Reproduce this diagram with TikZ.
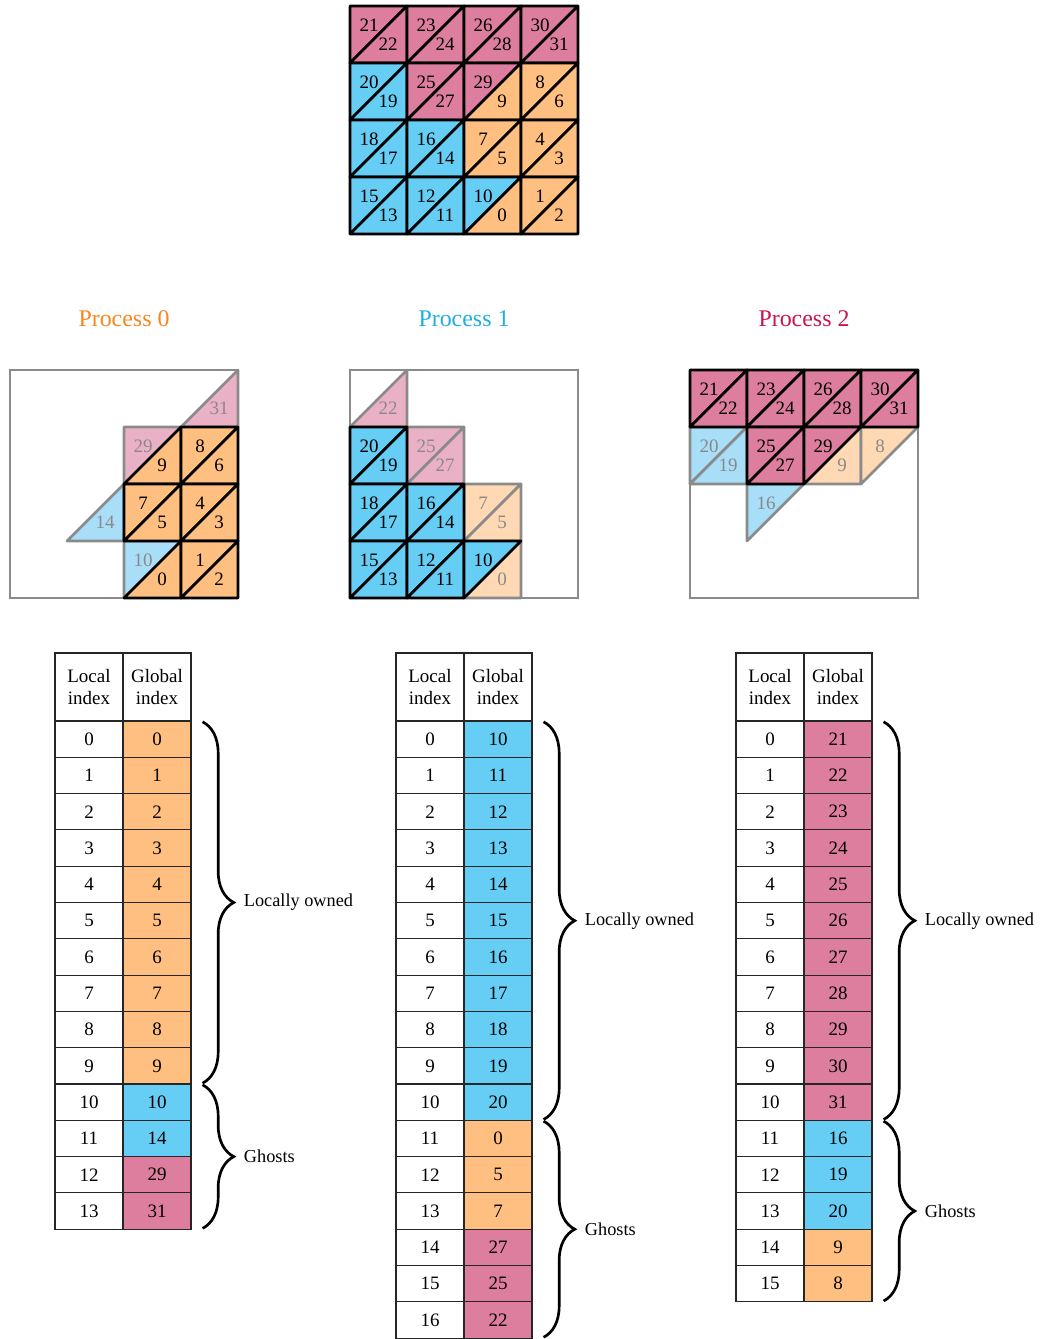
\documentclass[tikz,border=0pt]{standalone}
\usepackage{fontspec}
\setmainfont{Liberation Serif}
\usetikzlibrary{decorations.pathreplacing, positioning}

\definecolor{orgc}{HTML}{FFBF80}
\definecolor{bluc}{HTML}{66CDF4}
\definecolor{pnkc}{HTML}{DE7E9E}
\definecolor{orgl}{HTML}{FFD9B3}
\definecolor{blul}{HTML}{A8DEF7}
\definecolor{pnkl}{HTML}{EAB1C6}
\definecolor{ttlorg}{HTML}{F7861F}
\definecolor{ttlblu}{HTML}{1FAEE3}
\definecolor{ttlpnk}{HTML}{C8144C}
\definecolor{edgegray}{HTML}{8A8A8A}

% upper-left / lower-right half of cell (col,row): name, col, row, fill, edge, number
\newcommand{\utri}[6]{%
  \draw[tri, fill=#4, draw=#5] ({57*#2},{57*#3}) -- ++(57,0) -- ++(-57,57) -- cycle;
  \node[num, text=#5] (#1) at ({57*#2+19},{57*#3+19}) {#6};}
\newcommand{\ltri}[6]{%
  \draw[tri, fill=#4, draw=#5] ({57*#2+57},{57*#3}) -- ++(0,57) -- ++(-57,0) -- cycle;
  \node[num, text=#5] (#1) at ({57*#2+38},{57*#3+38}) {#6};}

\begin{document}
\begin{tikzpicture}[
  x=0.025cm, y=-0.025cm,
  tri/.style={line width=1.9pt, line join=round},
  num/.style={font=\fontsize{13.5}{15}\selectfont, inner sep=0pt},
  frm/.style={draw=edgegray, line width=1.8pt},
  ttl/.style={font=\fontsize{17}{19}\selectfont},
  hdr/.style={draw=black!85, line width=0.8pt, minimum width=1.7cm, minimum height=1.7cm,
              align=center, font=\fontsize{13.5}{15.5}\selectfont, inner sep=0pt},
  cell/.style={draw=black!85, line width=0.8pt, minimum width=1.7cm, minimum height=0.9075cm,
               font=\fontsize{13.5}{15.5}\selectfont, inner sep=0pt},
  brc/.style={decorate, decoration={brace, amplitude=0.78cm}, line width=1.9pt},
  brlbl/.style={midway, anchor=west, xshift=1.0cm, inner sep=0pt,
                font=\fontsize{13}{15}\selectfont}
]
  \useasboundingbox (0,0) rectangle (1045,1339);

  % ========== GLOBAL MESH ==========
  \begin{scope}[shift={(350,6)}]
    \foreach \c/\r/\ka/\a/\kb/\b in {0/0/pnkc/21/pnkc/22, 1/0/pnkc/23/pnkc/24, 2/0/pnkc/26/pnkc/28, 3/0/pnkc/30/pnkc/31,
                                     0/1/bluc/20/bluc/19, 1/1/pnkc/25/pnkc/27, 2/1/pnkc/29/orgc/9,   3/1/orgc/8/orgc/6,
                                     0/2/bluc/18/bluc/17, 1/2/bluc/16/bluc/14, 2/2/orgc/7/orgc/5,    3/2/orgc/4/orgc/3,
                                     0/3/bluc/15/bluc/13, 1/3/bluc/12/bluc/11, 2/3/bluc/10/orgc/0,   3/3/orgc/1/orgc/2}
    {
      \utri{gu\c\r}{\c}{\r}{\ka}{black}{\a}
      \ltri{gl\c\r}{\c}{\r}{\kb}{black}{\b}
    }
  \end{scope}

  % ========== PROCESS 0 ==========
  \begin{scope}[shift={(10,370)}]
    \node[ttl, text=ttlorg] (p0ttl) at (114,-51) {Process 0};
    \draw[frm] (0,0) rectangle (228,228);
    % ghosts
    \foreach \c/\r/\sd/\k/\n in {3/0/l/pnkl/31, 2/1/u/pnkl/29, 1/2/l/blul/14, 2/3/u/blul/10}
      {\csname\sd tri\endcsname{p0\sd\c\r}{\c}{\r}{\k}{edgegray}{\n}}
    % owned
    \foreach \c/\r/\sd/\n in {2/1/l/9, 3/1/u/8, 3/1/l/6, 2/2/u/7, 2/2/l/5, 3/2/u/4, 3/2/l/3,
                              2/3/l/0, 3/3/u/1, 3/3/l/2}
      {\csname\sd tri\endcsname{p0\sd\c\r}{\c}{\r}{orgc}{black}{\n}}
  \end{scope}

  % ========== PROCESS 1 ==========
  \begin{scope}[shift={(350,370)}]
    \node[ttl, text=ttlblu] (p1ttl) at (114,-51) {Process 1};
    \draw[frm] (0,0) rectangle (228,228);
    % ghosts
    \foreach \c/\r/\sd/\k/\n in {0/0/l/pnkl/22, 1/1/u/pnkl/25, 1/1/l/pnkl/27, 2/2/u/orgl/7,
                                 2/2/l/orgl/5, 2/3/l/orgl/0}
      {\csname\sd tri\endcsname{p1\sd\c\r}{\c}{\r}{\k}{edgegray}{\n}}
    % owned
    \foreach \c/\r/\sd/\n in {0/1/u/20, 0/1/l/19, 0/2/u/18, 0/2/l/17, 1/2/u/16, 1/2/l/14,
                              0/3/u/15, 0/3/l/13, 1/3/u/12, 1/3/l/11, 2/3/u/10}
      {\csname\sd tri\endcsname{p1\sd\c\r}{\c}{\r}{bluc}{black}{\n}}
  \end{scope}

  % ========== PROCESS 2 ==========
  \begin{scope}[shift={(690,370)}]
    \node[ttl, text=ttlpnk] (p2ttl) at (114,-51) {Process 2};
    \draw[frm] (0,0) rectangle (228,228);
    % ghosts
    \foreach \c/\r/\sd/\k/\n in {0/1/u/blul/20, 0/1/l/blul/19, 2/1/l/orgl/9, 3/1/u/orgl/8,
                                 1/2/u/blul/16}
      {\csname\sd tri\endcsname{p2\sd\c\r}{\c}{\r}{\k}{edgegray}{\n}}
    % owned
    \foreach \c/\r/\sd/\n in {0/0/u/21, 0/0/l/22, 1/0/u/23, 1/0/l/24, 2/0/u/26, 2/0/l/28,
                              3/0/u/30, 3/0/l/31, 1/1/u/25, 1/1/l/27, 2/1/u/29}
      {\csname\sd tri\endcsname{p2\sd\c\r}{\c}{\r}{pnkc}{black}{\n}}
  \end{scope}

  % ========== TABLE 0 ==========
  \begin{scope}[shift={(55,653)}]
    \node[hdr] (t0hl) at (34,34) {Local\\index};
    \node[hdr] (t0hg) at (102,34) {Global\\index};
    \foreach \g/\k [count=\i from 0] in {0/orgc, 1/orgc, 2/orgc, 3/orgc, 4/orgc, 5/orgc, 6/orgc,
                                         7/orgc, 8/orgc, 9/orgc, 10/bluc, 14/bluc, 29/pnkc, 31/pnkc}
    {
      \node[cell] (t0l\i) at (34,{86.15+36.3*\i}) {\i};
      \node[cell, fill=\k] (t0g\i) at (102,{86.15+36.3*\i}) {\g};
    }
    \draw[brc] ([xshift=0.275cm, yshift=-1pt]t0g0.north east)
      -- ([xshift=0.275cm, yshift=1pt]t0g9.south east) node[brlbl] {Locally owned};
    \draw[brc] ([xshift=0.275cm, yshift=-1pt]t0g10.north east)
      -- ([xshift=0.275cm, yshift=1pt]t0g13.south east) node[brlbl] {Ghosts};
  \end{scope}

  % ========== TABLE 1 ==========
  \begin{scope}[shift={(396,653)}]
    \node[hdr] (t1hl) at (34,34) {Local\\index};
    \node[hdr] (t1hg) at (102,34) {Global\\index};
    \foreach \g/\k [count=\i from 0] in {10/bluc, 11/bluc, 12/bluc, 13/bluc, 14/bluc, 15/bluc,
                                         16/bluc, 17/bluc, 18/bluc, 19/bluc, 20/bluc, 0/orgc,
                                         5/orgc, 7/orgc, 27/pnkc, 25/pnkc, 22/pnkc}
    {
      \node[cell] (t1l\i) at (34,{86.15+36.3*\i}) {\i};
      \node[cell, fill=\k] (t1g\i) at (102,{86.15+36.3*\i}) {\g};
    }
    \draw[brc] ([xshift=0.275cm, yshift=-1pt]t1g0.north east)
      -- ([xshift=0.275cm, yshift=1pt]t1g10.south east) node[brlbl] {Locally owned};
    \draw[brc] ([xshift=0.275cm, yshift=-1pt]t1g11.north east)
      -- ([xshift=0.275cm, yshift=1pt]t1g16.south east) node[brlbl] {Ghosts};
  \end{scope}

  % ========== TABLE 2 ==========
  \begin{scope}[shift={(736,653)}]
    \node[hdr] (t2hl) at (34,34) {Local\\index};
    \node[hdr] (t2hg) at (102,34) {Global\\index};
    \foreach \g/\k [count=\i from 0] in {21/pnkc, 22/pnkc, 23/pnkc, 24/pnkc, 25/pnkc, 26/pnkc,
                                         27/pnkc, 28/pnkc, 29/pnkc, 30/pnkc, 31/pnkc, 16/bluc,
                                         19/bluc, 20/bluc, 9/orgc, 8/orgc}
    {
      \node[cell] (t2l\i) at (34,{86.15+36.3*\i}) {\i};
      \node[cell, fill=\k] (t2g\i) at (102,{86.15+36.3*\i}) {\g};
    }
    \draw[brc] ([xshift=0.275cm, yshift=-1pt]t2g0.north east)
      -- ([xshift=0.275cm, yshift=1pt]t2g10.south east) node[brlbl] {Locally owned};
    \draw[brc] ([xshift=0.275cm, yshift=-1pt]t2g11.north east)
      -- ([xshift=0.275cm, yshift=1pt]t2g15.south east) node[brlbl] {Ghosts};
  \end{scope}

\end{tikzpicture}
\end{document}
